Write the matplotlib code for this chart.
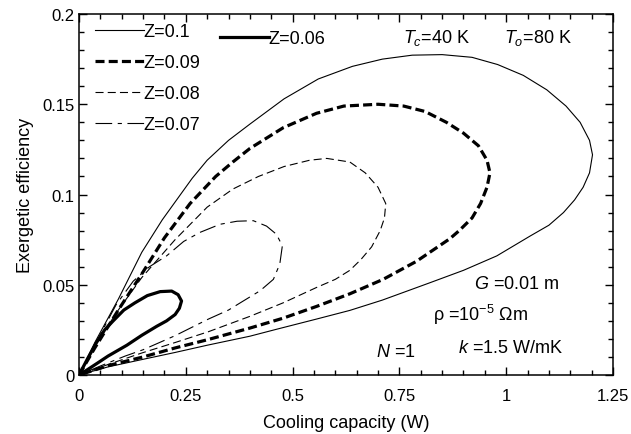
import matplotlib
matplotlib.use("Agg")
import matplotlib.pyplot as plt
from matplotlib.ticker import MultipleLocator, FuncFormatter

plt.rcParams['font.family'] = ['Liberation Sans', 'DejaVu Sans']
plt.rcParams['mathtext.fontset'] = 'custom'
plt.rcParams['mathtext.rm'] = 'Liberation Sans'
plt.rcParams['mathtext.it'] = 'Liberation Sans:italic'
plt.rcParams['lines.scale_dashes'] = False

# data (closed loops: upper branch then lower branch)
x_z10 = [0, 0.037, 0.092, 0.147, 0.195, 0.23, 0.265, 0.30, 0.35, 0.40, 0.48, 0.56, 0.64, 0.71,
         0.78, 0.85, 0.92, 0.98, 1.04, 1.095, 1.14, 1.173, 1.195, 1.202, 1.195, 1.18, 1.16,
         1.134, 1.10, 1.056, 0.978, 0.90, 0.82, 0.71, 0.634, 0.556, 0.46, 0.40, 0.30, 0.225,
         0.15, 0.068, 0]
y_z10 = [0, 0.018, 0.042, 0.068, 0.086, 0.0975, 0.109, 0.119, 0.130, 0.139, 0.153, 0.164, 0.171,
         0.175, 0.1772, 0.1775, 0.176, 0.172, 0.166, 0.158, 0.149, 0.140, 0.130, 0.122, 0.112,
         0.104, 0.097, 0.090, 0.083, 0.077, 0.066, 0.058, 0.051, 0.0415, 0.0358, 0.031, 0.0252,
         0.0215, 0.0165, 0.0125, 0.0087, 0.0045, 0]

x_z09 = [0, 0.037, 0.092, 0.147, 0.20, 0.26, 0.32, 0.36, 0.40, 0.478, 0.556, 0.62, 0.70, 0.76,
         0.81, 0.86, 0.90, 0.935, 0.955, 0.962, 0.955, 0.94, 0.92, 0.89, 0.868, 0.79, 0.712,
         0.634, 0.556, 0.478, 0.40, 0.30, 0.225, 0.15, 0.068, 0]
y_z09 = [0, 0.015, 0.036, 0.056, 0.076, 0.095, 0.110, 0.118, 0.1255, 0.137, 0.145, 0.149, 0.150,
         0.149, 0.146, 0.140, 0.134, 0.127, 0.119, 0.112, 0.104, 0.095, 0.087, 0.080, 0.0755,
         0.063, 0.053, 0.045, 0.038, 0.0315, 0.026, 0.0195, 0.015, 0.010, 0.0052, 0]

x_z08 = [0, 0.037, 0.092, 0.147, 0.225, 0.30, 0.36, 0.42, 0.48, 0.54, 0.58, 0.634, 0.67, 0.70,
         0.718, 0.715, 0.705, 0.685, 0.66, 0.634, 0.60, 0.556, 0.478, 0.40, 0.303, 0.225,
         0.147, 0.07, 0]
y_z08 = [0, 0.0162, 0.036, 0.054, 0.075, 0.093, 0.103, 0.110, 0.1155, 0.119, 0.120, 0.118,
         0.112, 0.104, 0.095, 0.087, 0.080, 0.071, 0.064, 0.058, 0.053, 0.0485, 0.040, 0.0325,
         0.024, 0.018, 0.0122, 0.006, 0]

x_z07 = [0, 0.03, 0.06, 0.087, 0.127, 0.165, 0.205, 0.245, 0.283, 0.33, 0.37, 0.408, 0.439,
         0.462, 0.476, 0.47, 0.455, 0.424, 0.381, 0.35, 0.303, 0.225, 0.15, 0.108, 0.05, 0]
y_z07 = [0, 0.013, 0.027, 0.039, 0.052, 0.060, 0.066, 0.074, 0.079, 0.0835, 0.0852, 0.0855,
         0.0825, 0.078, 0.0716, 0.0615, 0.053, 0.0467, 0.0405, 0.036, 0.031, 0.0218, 0.014,
         0.0105, 0.005, 0]

x_z06 = [0, 0.02, 0.041, 0.06, 0.08, 0.105, 0.131, 0.16, 0.19, 0.217, 0.232, 0.24, 0.235,
         0.225, 0.205, 0.182, 0.147, 0.112, 0.068, 0.049, 0.02, 0]
y_z06 = [0, 0.009, 0.018, 0.025, 0.030, 0.036, 0.040, 0.0440, 0.0462, 0.0465, 0.0445,
         0.041, 0.037, 0.0335, 0.030, 0.027, 0.022, 0.0165, 0.0105, 0.0075, 0.003, 0]

fig = plt.figure(figsize=(6.31, 4.35), dpi=100)
ax = fig.add_axes([0.1252, 0.1356, 0.8463, 0.8299])

l10, = ax.plot(x_z10, y_z10, color='black', lw=0.8, label='Z=0.1')
l09, = ax.plot(x_z09, y_z09, color='black', lw=2.3, dashes=(6.5, 3), label='Z=0.09')
l08, = ax.plot(x_z08, y_z08, color='black', lw=0.8, dashes=(5.8, 3), label='Z=0.08')
l07, = ax.plot(x_z07, y_z07, color='black', lw=0.8, dashes=(12, 4, 3, 4), label='Z=0.07')
l06, = ax.plot(x_z06, y_z06, color='black', lw=2.3, label='Z=0.06')

ax.set_xlim(0, 1.25)
ax.set_ylim(0, 0.2)
ax.xaxis.set_major_locator(MultipleLocator(0.25))
ax.xaxis.set_minor_locator(MultipleLocator(0.05))
ax.yaxis.set_major_locator(MultipleLocator(0.05))
ax.yaxis.set_minor_locator(MultipleLocator(0.01))
fmt = FuncFormatter(lambda v, p: '%g' % round(v, 3))
ax.xaxis.set_major_formatter(fmt)
ax.yaxis.set_major_formatter(fmt)
ax.tick_params(which='both', direction='in', top=True, right=True, labelsize=12, width=1)
ax.tick_params(which='major', length=6)
ax.tick_params(which='minor', length=3.5)
ax.tick_params(axis='x', pad=9)
for s in ax.spines.values():
    s.set_linewidth(1.1)

ax.set_xlabel('Cooling capacity (W)', fontsize=13, labelpad=8)
ax.set_ylabel('Exergetic efficiency', fontsize=13, labelpad=6)

leg1 = ax.legend(handles=[l10, l09, l08, l07], loc='upper left', bbox_to_anchor=(0.03, 0.975),
                 frameon=False, fontsize=13, handlelength=2.7, handletextpad=0.0,
                 labelspacing=0.78, borderpad=0, borderaxespad=0)
ax.add_artist(leg1)
ax.legend(handles=[l06], loc='upper left', bbox_to_anchor=(0.264, 0.956), frameon=False,
          fontsize=13, handlelength=2.7, handletextpad=0.0, borderpad=0, borderaxespad=0)

ax.text(0.607, 0.922, r'$T_c$=40 K', transform=ax.transAxes, fontsize=13, va='baseline')
ax.text(0.795, 0.922, r'$T_o$=80 K', transform=ax.transAxes, fontsize=13, va='baseline')
ax.text(0.740, 0.241, r'$G$ =0.01 m', transform=ax.transAxes, fontsize=13, va='baseline')
ax.text(0.663, 0.152, r'ρ =10$^{-5}$ Ωm', transform=ax.transAxes, fontsize=13, va='baseline')
ax.text(0.709, 0.063, r'$k$ =1.5 W/mK', transform=ax.transAxes, fontsize=13, va='baseline')
ax.text(0.557, 0.053, r'$N$ =1', transform=ax.transAxes, fontsize=13, va='baseline')

fig.savefig('out.png', dpi=100)
